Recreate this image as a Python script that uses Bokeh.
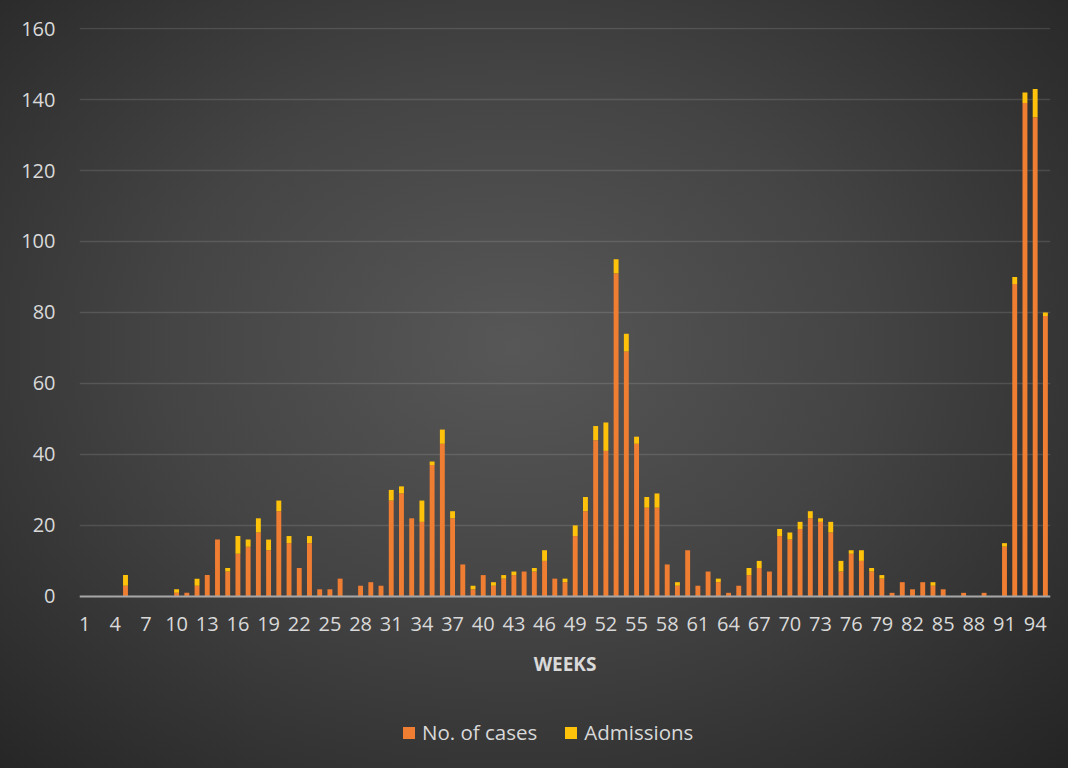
from bokeh.plotting import figure
from bokeh.models import ColumnDataSource, FixedTicker, Range1d
from bokeh.embed import file_html
from bokeh.resources import INLINE

weeks = list(range(1, 96))
cases = [0, 0, 0, 0, 3, 0, 0, 0, 0, 1,
         1, 3, 6, 16, 7, 12, 14, 18, 13, 24,
         15, 8, 15, 2, 2, 5, 0, 3, 4, 3,
         27, 29, 22, 21, 37, 43, 22, 9, 2, 6,
         3, 5, 6, 7, 7, 10, 5, 4, 17, 24,
         44, 41, 91, 69, 43, 25, 25, 9, 3, 13,
         3, 7, 4, 1, 3, 6, 8, 7, 17, 16,
         19, 22, 21, 18, 7, 12, 10, 7, 5, 1,
         4, 2, 4, 3, 2, 0, 1, 0, 1, 0,
         14, 88, 139, 135, 79]
admissions = [0, 0, 0, 0, 3, 0, 0, 0, 0, 1,
              0, 2, 0, 0, 1, 5, 2, 4, 3, 3,
              2, 0, 2, 0, 0, 0, 0, 0, 0, 0,
              3, 2, 0, 6, 1, 4, 2, 0, 1, 0,
              1, 1, 1, 0, 1, 3, 0, 1, 3, 4,
              4, 8, 4, 5, 2, 3, 4, 0, 1, 0,
              0, 0, 1, 0, 0, 2, 2, 0, 2, 2,
              2, 2, 1, 3, 3, 1, 3, 1, 1, 0,
              0, 0, 0, 1, 0, 0, 0, 0, 0, 0,
              1, 2, 3, 8, 1]
x_ticks = list(range(1, 95, 3))
y_ticks = [0, 20, 40, 60, 80, 100, 120, 140, 160]
series = ["cases", "admissions"]
series_labels = ["No. of cases", "Admissions"]
colors = ["#EF7D32", "#FFC20A"]

source = ColumnDataSource(dict(week=weeks, cases=cases, admissions=admissions))

# the frame reaches down to the bottom edge so that the legend can sit inside it;
# the x axis is pinned at y = 0
p = figure(width=1068, height=768, output_backend="svg", toolbar_location=None,
           x_range=Range1d(0.5, 95.5), y_range=Range1d(-48.5, 160.3),
           min_border_left=79, min_border_right=18, min_border_top=27,
           min_border_bottom=0)

p.styles = {"background": "radial-gradient(ellipse farthest-corner at 48% 45%, #575757 0%, #444444 45%, #242424 100%)"}
p.background_fill_alpha = 0
p.border_fill_alpha = 0
p.outline_line_color = None

p.vbar_stack(series, x="week", width=0.48, source=source, color=colors,
             line_color=None, legend_label=series_labels)

TXT = "#d9d9d9"
FONT = "Open Sans"

p.yaxis.ticker = FixedTicker(ticks=y_ticks)
p.yaxis.axis_line_color = None
p.yaxis.major_tick_line_color = None
p.yaxis.minor_tick_line_color = None
p.yaxis.major_label_standoff = 18
p.yaxis.major_label_text_font = FONT
p.yaxis.major_label_text_font_size = "20px"
p.yaxis.major_label_text_color = TXT

p.xaxis.fixed_location = 0
p.xaxis.ticker = FixedTicker(ticks=x_ticks)
p.xaxis.axis_line_color = "#a6a6a6"
p.xaxis.axis_line_width = 2
p.xaxis.major_tick_line_color = None
p.xaxis.minor_tick_line_color = None
p.xaxis.major_label_standoff = 15
p.xaxis.major_label_text_font = FONT
p.xaxis.major_label_text_font_size = "20px"
p.xaxis.major_label_text_color = TXT
p.xaxis.axis_label = "WEEKS"
p.xaxis.axis_label_text_font = FONT
p.xaxis.axis_label_text_font_size = "19px"
p.xaxis.axis_label_text_font_style = "bold"
p.xaxis.axis_label_text_color = TXT
p.xaxis.axis_label_standoff = 16

p.xgrid.grid_line_color = None
p.ygrid.grid_line_color = "white"
p.ygrid.grid_line_alpha = 0.12
p.ygrid.grid_line_width = 1.5

lg = p.legend[0]
lg.orientation = "horizontal"
lg.location = (322, 22)
lg.background_fill_alpha = 0
lg.border_line_color = None
lg.padding = 0
lg.margin = 0
lg.spacing = 26
lg.label_standoff = 6
lg.glyph_width = 15
lg.glyph_height = 15
lg.label_height = 20
lg.label_text_font = FONT
lg.label_text_font_size = "20.5px"
lg.label_text_color = TXT

open("out.html", "w").write(file_html(p, INLINE))
